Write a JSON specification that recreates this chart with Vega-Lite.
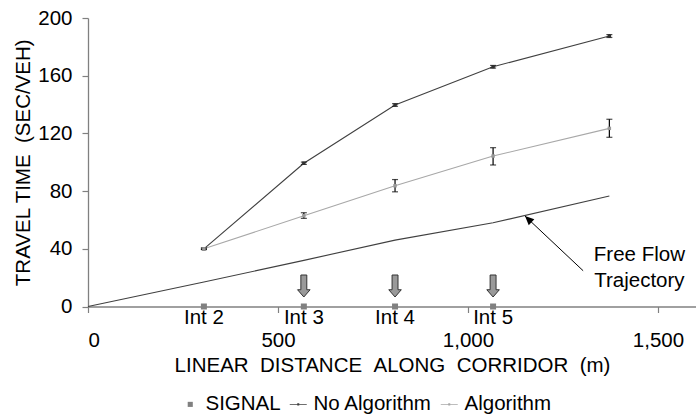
{
  "$schema": "https://vega.github.io/schema/vega-lite/v6.json",
  "width": 608,
  "height": 288.5,
  "autosize": "none",
  "padding": {"left": 88, "top": 18, "right": 0, "bottom": 108.5},
  "background": "white",
  "config": {
    "view": {"stroke": null},
    "font": "Liberation Sans",
    "axis": {"grid": false, "labelFont": "Liberation Sans", "titleFont": "Liberation Sans", "labelFontSize": 20.5, "titleFontSize": 20.5, "titleFontWeight": "normal", "labelColor": "black", "titleColor": "black", "domainColor": "#808080", "tickColor": "#808080", "domainWidth": 1.3, "tickWidth": 1.2},
    "legend": {"labelFont": "Liberation Sans", "labelFontSize": 20.5, "labelColor": "black"}
  },
  "datasets": {
    "series": [
      {"dist": 305, "tt": 40, "lo": 39.5, "hi": 40.5, "series": "No Algorithm"},
      {"dist": 568, "tt": 99.3, "lo": 98.5, "hi": 100.1, "series": "No Algorithm"},
      {"dist": 808, "tt": 139.7, "lo": 138.8, "hi": 140.6, "series": "No Algorithm"},
      {"dist": 1066, "tt": 166.2, "lo": 165.3, "hi": 167.1, "series": "No Algorithm"},
      {"dist": 1372, "tt": 187.5, "lo": 186.5, "hi": 188.5, "series": "No Algorithm"},
      {"dist": 305, "tt": 40, "lo": 39.5, "hi": 40.5, "series": "Algorithm"},
      {"dist": 568, "tt": 62.9, "lo": 61.1, "hi": 65, "series": "Algorithm"},
      {"dist": 808, "tt": 83.7, "lo": 79.5, "hi": 88, "series": "Algorithm"},
      {"dist": 1066, "tt": 104.3, "lo": 98.1, "hi": 110.1, "series": "Algorithm"},
      {"dist": 1372, "tt": 123.5, "lo": 117.3, "hi": 129.8, "series": "Algorithm"}
    ],
    "freeflow": [
      {"dist": 0, "tt": 0},
      {"dist": 305, "tt": 17},
      {"dist": 568, "tt": 32},
      {"dist": 808, "tt": 46},
      {"dist": 1066, "tt": 58},
      {"dist": 1372, "tt": 76.6}
    ],
    "signals": [
      {"dist": 305, "tt": 0, "label": "Int 2", "series": "SIGNAL", "arrow": false},
      {"dist": 568, "tt": 0, "label": "Int 3", "series": "SIGNAL", "arrow": true},
      {"dist": 808, "tt": 0, "label": "Int 4", "series": "SIGNAL", "arrow": true},
      {"dist": 1066, "tt": 0, "label": "Int 5", "series": "SIGNAL", "arrow": true}
    ],
    "annot": [
      {"dist": 1451, "tt": 31.5, "text": "Free Flow"},
      {"dist": 1451, "tt": 13.7, "text": "Trajectory"}
    ],
    "pointer": [
      {"x1": 1303, "y1": 24.8, "x2": 1150, "y2": 62.7}
    ]
  },
  "layer": [
    {
      "data": {"name": "freeflow"},
      "mark": {"type": "line", "color": "#404040", "strokeWidth": 1.1},
      "encoding": {
        "x": {"field": "dist", "type": "quantitative", "scale": {"domain": [0, 1600], "nice": false, "zero": false},
          "axis": {"values": [0, 500, 1000, 1500], "format": ",d", "tickSize": 6, "labelPadding": 18, "title": "LINEAR\u00a0\u00a0DISTANCE\u00a0\u00a0ALONG\u00a0\u00a0CORRIDOR\u00a0\u00a0(m)", "titlePadding": 4,
            "encode": {"ticks": {"update": {"y": {"value": -6}}}}}},
        "y": {"field": "tt", "type": "quantitative", "title": "TRAVEL TIME\u00a0\u00a0(SEC/VEH)", "scale": {"domain": [0, 200], "nice": false},
          "axis": {"values": [0, 40, 80, 120, 160, 200], "tickSize": 6, "labelPadding": 10, "titlePadding": 4,
            "encode": {"ticks": {"update": {"x": {"value": 7}}}}}}
      }
    },
    {
      "data": {"name": "series"},
      "mark": {"type": "line", "strokeWidth": 1.1},
      "encoding": {
        "x": {"field": "dist", "type": "quantitative"},
        "y": {"field": "tt", "type": "quantitative", "title": "TRAVEL TIME\u00a0\u00a0(SEC/VEH)"},
        "detail": {"field": "series"},
        "stroke": {"field": "series", "type": "nominal", "scale": {"domain": ["No Algorithm", "Algorithm"], "range": ["#404040", "#a8a8a8"]}, "legend": null}
      }
    },
    {
      "data": {"name": "series"},
      "mark": {"type": "errorbar", "ticks": {"size": 6}, "color": "black", "thickness": 1.2},
      "encoding": {
        "x": {"field": "dist", "type": "quantitative"},
        "y": {"field": "lo", "type": "quantitative", "title": "TRAVEL TIME\u00a0\u00a0(SEC/VEH)"},
        "y2": {"field": "hi"}
      }
    },
    {
      "data": {"name": "series"},
      "mark": {"type": "point", "shape": "square", "filled": true, "size": 12, "opacity": 1},
      "encoding": {
        "x": {"field": "dist", "type": "quantitative"},
        "y": {"field": "tt", "type": "quantitative", "title": "TRAVEL TIME\u00a0\u00a0(SEC/VEH)"},
        "fill": {"field": "series", "type": "nominal", "scale": {"domain": ["No Algorithm", "Algorithm"], "range": ["#303030", "#999999"]}, "legend": null}
      }
    },
    {
      "data": {"name": "signals"},
      "mark": {"type": "point", "filled": true, "size": 400, "opacity": 1},
      "encoding": {
        "x": {"field": "dist", "type": "quantitative"},
        "y": {"field": "tt", "type": "quantitative", "title": "TRAVEL TIME\u00a0\u00a0(SEC/VEH)"},
        "color": {"field": "series", "type": "nominal", "scale": {"domain": ["SIGNAL", "No Algorithm", "Algorithm"], "range": ["#808080", "#404040", "#a8a8a8"]},
          "legend": {"title": null, "orient": "none", "legendX": 92, "legendY": 376, "direction": "horizontal", "columns": 3, "symbolSize": 289, "labelOffset": 5, "columnPadding": 7, "symbolStrokeWidth": 0, "symbolOpacity": 1}},
        "shape": {"field": "series", "type": "nominal", "scale": {"domain": ["SIGNAL", "No Algorithm", "Algorithm"], "range": ["M-0.3,-0.3L0.3,-0.3L0.3,0.3L-0.3,0.3Z", "M-1,-0.05L1,-0.05L1,0.05L-1,0.05Z M-0.12,-0.14L0.12,-0.14L0.12,0.14L-0.12,0.14Z", "M-1,-0.05L1,-0.05L1,0.05L-1,0.05Z M-0.12,-0.14L0.12,-0.14L0.12,0.14L-0.12,0.14Z"]}}
      }
    },
    {
      "data": {"name": "signals"},
      "transform": [{"filter": "datum.arrow"}],
      "mark": {"type": "point", "shape": "M-0.27,-1L0.27,-1L0.27,0.34L0.57,0.34L0,1L-0.57,0.34L-0.27,0.34Z", "size": 484, "filled": true, "fill": "#999999", "stroke": "#333333", "strokeWidth": 1, "opacity": 1, "yOffset": -20.5},
      "encoding": {
        "x": {"field": "dist", "type": "quantitative"},
        "y": {"field": "tt", "type": "quantitative"}
      }
    },
    {
      "data": {"name": "signals"},
      "mark": {"type": "text", "fontSize": 20.5, "font": "Liberation Sans", "color": "black", "baseline": "alphabetic", "align": "center", "dy": 17.5},
      "encoding": {
        "x": {"field": "dist", "type": "quantitative"},
        "y": {"field": "tt", "type": "quantitative"},
        "text": {"field": "label"}
      }
    },
    {
      "data": {"name": "annot"},
      "mark": {"type": "text", "fontSize": 20.5, "font": "Liberation Sans", "color": "black", "baseline": "alphabetic", "align": "center"},
      "encoding": {
        "x": {"field": "dist", "type": "quantitative"},
        "y": {"field": "tt", "type": "quantitative"},
        "text": {"field": "text"}
      }
    },
    {
      "data": {"name": "pointer"},
      "mark": {"type": "rule", "color": "black", "strokeWidth": 1},
      "encoding": {
        "x": {"field": "x1", "type": "quantitative"},
        "y": {"field": "y1", "type": "quantitative"},
        "x2": {"field": "x2"},
        "y2": {"field": "y2"}
      }
    },
    {
      "data": {"name": "pointer"},
      "mark": {"type": "point", "shape": "M0,0L-0.45,1L0.45,1Z", "size": 324, "filled": true, "color": "black", "opacity": 1, "angle": 313.5},
      "encoding": {
        "x": {"field": "x2", "type": "quantitative"},
        "y": {"field": "y2", "type": "quantitative"}
      }
    }
  ]
}
